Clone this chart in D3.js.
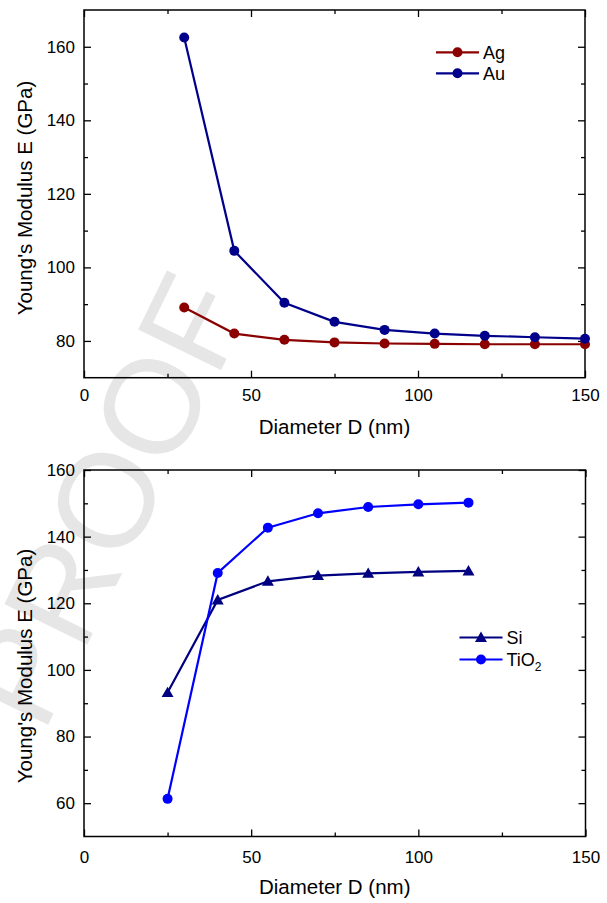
<!DOCTYPE html>
<html>
<head>
<meta charset="utf-8">
<script src="https://cdn.jsdelivr.net/npm/d3@7/dist/d3.min.js"></script>
<style>
  html, body { margin: 0; padding: 0; background: #fff; }
  svg { display: block; font-family: "Liberation Sans", Arial, sans-serif; }
</style>
</head>
<body>
<svg id="fig" width="607" height="903"></svg>
<script>
// Diameter values (nm) for each material
const diamMetal = [30, 45, 60, 75, 90, 105, 120, 135, 150];
const ag = [89.1, 82.0, 80.3, 79.6, 79.3, 79.2, 79.1, 79.1, 79.1];
const au = [162.5, 104.5, 90.4, 85.2, 83.0, 82.0, 81.4, 81.0, 80.6];

const diamSemi = [25, 40, 55, 70, 85, 100, 115];
const si = [93.2, 121.0, 126.6, 128.3, 129.0, 129.4, 129.7];
const tio2 = [61.3, 129.1, 142.7, 147.0, 148.9, 149.7, 150.2];

const xTicks = [0, 50, 100, 150];
const xMinor = [25, 75, 125];
const yTicksTop = [80, 100, 120, 140, 160];
const yMinorTop = [90, 110, 130, 150];
const yTicksBot = [60, 80, 100, 120, 140, 160];
const yMinorBot = [70, 90, 110, 130, 150];

const xTitle = "Diameter D (nm)";
const yTitle = "Young's Modulus E (GPa)";

const svg = d3.select("#fig");

// light watermark behind both plots
svg.append("text")
  .attr("transform", "translate(106,500) rotate(-64)")
  .attr("text-anchor", "middle")
  .attr("dominant-baseline", "central")
  .attr("font-size", 134)
  .attr("fill", "#e6e6e6")
  .text("PROOF");

function panel(cfg) {
  const x = d3.scaleLinear().domain([0, 150]).range([cfg.left, cfg.right]);
  const y = d3.scaleLinear().domain(cfg.yDomain).range([cfg.bottom, cfg.top]);
  const g = svg.append("g");

  const major = 7, minor = 4;
  const axisStyle = sel => {
    sel.select(".domain").remove();
    sel.selectAll("line").attr("stroke", "#000").attr("stroke-width", 1.3);
    sel.selectAll("text").attr("font-size", 17).attr("fill", "#000")
      .attr("font-family", "Liberation Sans, Arial, sans-serif");
  };

  // bottom axis with labels
  g.append("g").attr("transform", `translate(0,${cfg.bottom})`)
    .call(d3.axisBottom(x).tickValues(xTicks).tickSize(-major).tickSizeOuter(0).tickPadding(cfg.xPad).tickFormat(d3.format("d")))
    .call(axisStyle);
  g.append("g").attr("transform", `translate(0,${cfg.bottom})`)
    .call(d3.axisBottom(x).tickValues(xMinor).tickSize(-minor).tickSizeOuter(0).tickFormat(""))
    .call(axisStyle);
  // top axis, ticks only
  g.append("g").attr("transform", `translate(0,${cfg.top})`)
    .call(d3.axisTop(x).tickValues(xTicks).tickSize(-major).tickSizeOuter(0).tickFormat(""))
    .call(axisStyle);
  g.append("g").attr("transform", `translate(0,${cfg.top})`)
    .call(d3.axisTop(x).tickValues(xMinor).tickSize(-minor).tickSizeOuter(0).tickFormat(""))
    .call(axisStyle);
  // left axis with labels
  g.append("g").attr("transform", `translate(${cfg.left},0)`)
    .call(d3.axisLeft(y).tickValues(cfg.yTicks).tickSize(-major).tickSizeOuter(0).tickPadding(9).tickFormat(d3.format("d")))
    .call(axisStyle);
  g.append("g").attr("transform", `translate(${cfg.left},0)`)
    .call(d3.axisLeft(y).tickValues(cfg.yMinor).tickSize(-minor).tickSizeOuter(0).tickFormat(""))
    .call(axisStyle);
  // right axis, ticks only
  g.append("g").attr("transform", `translate(${cfg.right},0)`)
    .call(d3.axisRight(y).tickValues(cfg.yTicks).tickSize(-major).tickSizeOuter(0).tickFormat(""))
    .call(axisStyle);
  g.append("g").attr("transform", `translate(${cfg.right},0)`)
    .call(d3.axisRight(y).tickValues(cfg.yMinor).tickSize(-minor).tickSizeOuter(0).tickFormat(""))
    .call(axisStyle);

  // frame
  g.append("rect")
    .attr("x", cfg.left).attr("y", cfg.top)
    .attr("width", cfg.right - cfg.left).attr("height", cfg.bottom - cfg.top)
    .attr("fill", "none").attr("stroke", "#000").attr("stroke-width", 1.5);

  // titles
  g.append("text")
    .attr("x", (cfg.left + cfg.right) / 2).attr("y", cfg.xTitleY)
    .attr("text-anchor", "middle").attr("font-size", 20.5).text(xTitle);
  g.append("text")
    .attr("transform", `translate(32,${cfg.yTitleC}) rotate(-90)`)
    .attr("text-anchor", "middle").attr("font-size", 20.5).text(yTitle);

  // series
  const line = d3.line().x(d => x(d[0])).y(d => y(d[1]));
  const tri = d3.symbol().type(d3.symbolTriangle).size(62);
  cfg.series.forEach(s => {
    const pts = s.xs.map((d, i) => [d, s.ys[i]]);
    g.append("path").datum(pts).attr("d", line)
      .attr("fill", "none").attr("stroke", s.color).attr("stroke-width", 2.2);
    if (s.marker === "circle") {
      g.selectAll(null).data(pts).join("circle")
        .attr("cx", d => x(d[0])).attr("cy", d => y(d[1])).attr("r", 5)
        .attr("fill", s.color);
    } else {
      g.selectAll(null).data(pts).join("path")
        .attr("transform", d => `translate(${x(d[0])},${y(d[1]) + 1})`)
        .attr("d", tri).attr("fill", s.color);
    }
  });

  // legend
  cfg.series.forEach((s, i) => {
    const ly = cfg.legend.y + i * cfg.legend.dy;
    const lx = cfg.legend.x;
    g.append("line").attr("x1", lx).attr("x2", lx + 43).attr("y1", ly).attr("y2", ly)
      .attr("stroke", s.color).attr("stroke-width", 2.2);
    if (s.marker === "circle") {
      g.append("circle").attr("cx", lx + 21.5).attr("cy", ly).attr("r", 5).attr("fill", s.color);
    } else {
      g.append("path").attr("transform", `translate(${lx + 21.5},${ly + 1})`).attr("d", tri).attr("fill", s.color);
    }
    const t = g.append("text").attr("x", lx + 47).attr("y", ly + 6.5).attr("font-size", 18);
    if (s.sub) {
      t.append("tspan").text(s.name);
      t.append("tspan").attr("font-size", 12).attr("dy", 5).text(s.sub);
    } else {
      t.text(s.name);
    }
  });
}

panel({
  left: 84, right: 585, top: 10, bottom: 377.7,
  yDomain: [70, 170], yTicks: yTicksTop, yMinor: yMinorTop,
  xPad: 11, xTitleY: 434, yTitleC: 198,
  legend: { x: 436, y: 52.3, dy: 21 },
  series: [
    { name: "Ag", xs: diamMetal, ys: ag, color: "#8b0000", marker: "circle" },
    { name: "Au", xs: diamMetal, ys: au, color: "#00008b", marker: "circle" }
  ]
});

panel({
  left: 84, right: 585.5, top: 470, bottom: 836.5,
  yDomain: [50, 160], yTicks: yTicksBot, yMinor: yMinorBot,
  xPad: 14.5, xTitleY: 894, yTitleC: 666,
  legend: { x: 459.5, y: 637.5, dy: 22 },
  series: [
    { name: "Si", xs: diamSemi, ys: si, color: "#000080", marker: "triangle" },
    { name: "TiO", sub: "2", xs: diamSemi, ys: tio2, color: "#0000ff", marker: "circle" }
  ]
});
</script>
</body>
</html>
